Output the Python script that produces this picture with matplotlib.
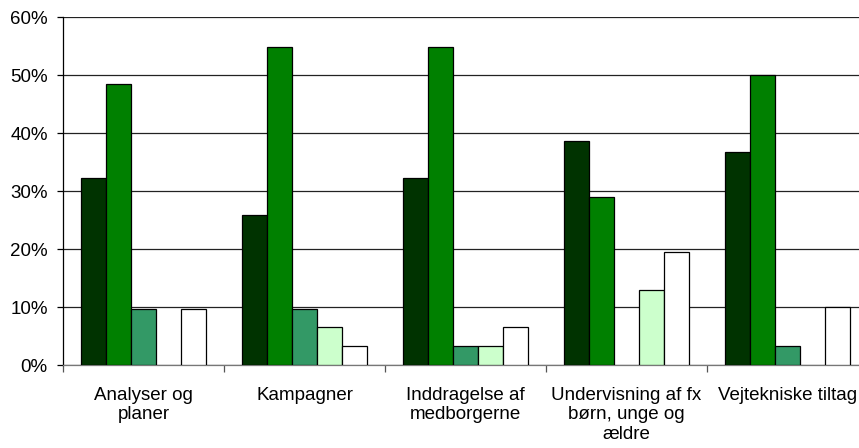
import matplotlib
matplotlib.use("Agg")
import matplotlib.pyplot as plt
import numpy as np
from matplotlib.ticker import FixedLocator, PercentFormatter

categories = ["Analyser og\nplaner", "Kampagner", "Inddragelse af\nmedborgerne",
              "Undervisning af fx\nbørn, unge og\nældre", "Vejtekniske tiltag"]
s1 = [32.3, 25.8, 32.3, 38.7, 36.7]
s2 = [48.4, 54.8, 54.8, 29.0, 50.0]
s3 = [9.7, 9.7, 3.2, 0.0, 3.3]
s4 = [0.0, 6.5, 3.2, 12.9, 0.0]
s5 = [9.7, 3.2, 6.5, 19.4, 10.0]
series = [s1, s2, s3, s4, s5]
colors = ["#003300", "#008000", "#339966", "#CCFFCC", "#FFFFFF"]

plt.rcParams['font.family'] = ['Liberation Sans', 'DejaVu Sans']
fig = plt.figure(figsize=(8.59, 4.48), dpi=100)
ax = fig.add_axes([63/859, 1-365/448, 805/859, 348/448])

x = np.arange(len(categories))
w = 0.155
for i, (vals, c) in enumerate(zip(series, colors)):
    heights = np.array(vals)
    mask = heights > 0
    ax.bar(x[mask] + (i - 2) * w, heights[mask], width=w, color=c,
           edgecolor="black", linewidth=0.9, zorder=3)

ax.set_xlim(-0.5, len(categories) - 0.5)
ax.set_ylim(0, 60)
ax.set_yticks(np.arange(0, 61, 10))
ax.yaxis.set_major_formatter(PercentFormatter(decimals=0))
ax.yaxis.grid(True, color="#222222", linewidth=0.9, zorder=0)
ax.set_axisbelow(True)

ax.set_xticks(x)
ax.set_xticklabels(categories, fontsize=13.5, linespacing=1.17)
ax.xaxis.set_minor_locator(FixedLocator(np.arange(-0.5, len(categories), 1.0)))
ax.tick_params(axis="x", which="major", length=0, pad=16)
ax.tick_params(axis="x", which="minor", length=5, color="#555555", width=0.9)
ax.tick_params(axis="y", length=4, width=0.9, labelsize=13.5, pad=7)

for s in ["top", "right"]:
    ax.spines[s].set_visible(False)
ax.spines["left"].set_color("black")
ax.spines["bottom"].set_color("#777777")
ax.spines["left"].set_linewidth(0.9)
ax.spines["bottom"].set_linewidth(0.9)

fig.savefig("out.png", dpi=100)
